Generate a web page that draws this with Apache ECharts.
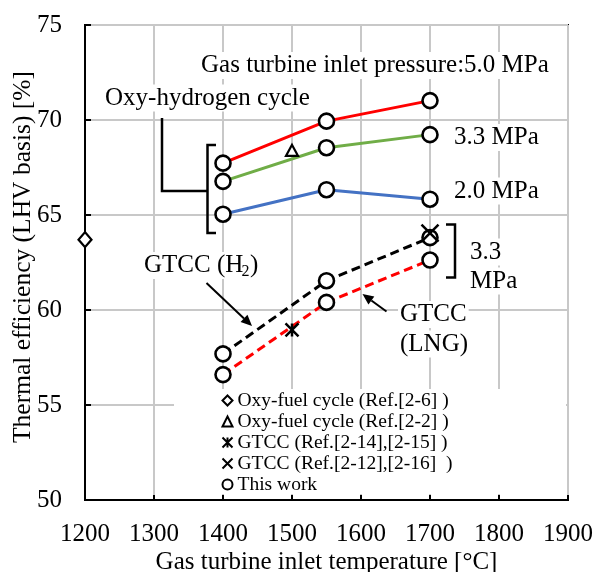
<!DOCTYPE html>
<html>
<head>
<meta charset="utf-8">
<script src="https://cdn.jsdelivr.net/npm/echarts@6/dist/echarts.min.js"></script>
<style>
html,body{margin:0;padding:0;background:#fff;}
#chart{width:593px;height:572px;}
</style>
</head>
<body>
<div id="chart"></div>
<script>
// ---- data ----
const temps = [1400, 1550, 1700];
const oxyH2_50MPa = [67.73, 69.94, 71.02];
const oxyH2_33MPa = [66.77, 68.54, 69.23];
const oxyH2_20MPa = [65.04, 66.33, 65.83];
const gtccH2_33MPa = [57.69, 61.54, 63.81];
const gtccLNG_33MPa = [56.60, 60.40, 62.63];
const oxyFuelRef26 = [[1200, 63.7]];
const oxyFuelRef22 = [[1500, 68.4]];
const gtccRef1415 = [[1500, 58.95]];
const gtccRef1216 = [[1700, 64.05]];
const xRange = [1200, 1900, 100];
const yRange = [50, 75, 5];
const legendNames = ['Oxy-fuel cycle (Ref.[2-6] )', 'Oxy-fuel cycle (Ref.[2-2] )', 'GTCC (Ref.[2-14],[2-15] )', 'GTCC (Ref.[2-12],[2-16]  )', 'This work'];

const FONT = '"Liberation Serif", "Times New Roman", serif';
const pair = (ys) => temps.map((t, i) => [t, ys[i]]);
const thisWork = [].concat(pair(oxyH2_50MPa), pair(oxyH2_33MPa), pair(oxyH2_20MPa), pair(gtccH2_33MPa), pair(gtccLNG_33MPa));

const STAR = 'path://M0,0L10,10M10,0L0,10M5,0L5,10';
const CROSS = 'path://M0,0L10,10M10,0L0,10';

function lineSeries(ys, color, dashed) {
  return {
    type: 'line', data: pair(ys), showSymbol: false, symbol: 'none', z: 2,
    lineStyle: { color: color, width: 3, type: dashed ? [9, 5] : 'solid' },
    silent: true
  };
}
function txt(s, x, y, size, bg) {
  return {
    type: 'text', x: x, y: y, z: 5,
    style: {
      text: s, font: (size || 25) + 'px ' + FONT, fill: '#000',
      textAlign: 'left', textVerticalAlign: 'middle', align: 'left', verticalAlign: 'middle',
      backgroundColor: bg === false ? null : '#fff', padding: bg === false ? 0 : [1, 2]
    }
  };
}
function poly(points) {
  return { type: 'polyline', z: 6, shape: { points: points }, style: { stroke: '#000', lineWidth: 2.5, fill: null } };
}
function arrow(x1, y1, x2, y2) {
  const a = Math.atan2(y2 - y1, x2 - x1), L = 11, W = 5;
  const bx = x2 - L * Math.cos(a), by = y2 - L * Math.sin(a);
  const px = -Math.sin(a) * W, py = Math.cos(a) * W;
  return [
    { type: 'line', z: 6, shape: { x1: x1, y1: y1, x2: bx, y2: by }, style: { stroke: '#000', lineWidth: 2 } },
    { type: 'polygon', z: 6, shape: { points: [[x2, y2], [bx + px, by + py], [bx - px, by - py]] }, style: { fill: '#000' } }
  ];
}

const chart = echarts.init(document.getElementById('chart'), null, { renderer: 'canvas' });
const option = {
  backgroundColor: '#fff',
  animation: false,
  textStyle: { fontFamily: FONT },
  grid: { left: 85, right: 25, top: 25, bottom: 72, show: true, borderColor: '#000', borderWidth: 2,
    containLabel: false, outerBoundsMode: 'none' },
  xAxis: {
    type: 'value', min: xRange[0], max: xRange[1], interval: xRange[2],
    name: 'Gas turbine inlet temperature [°C]', nameLocation: 'middle', nameGap: 50, nameMoveOverlap: false,
    nameTextStyle: { fontSize: 25, color: '#000', fontFamily: FONT },
    axisLine: { show: true, lineStyle: { color: '#000', width: 2 } },
    axisTick: { show: true, inside: true, length: 5, lineStyle: { color: '#000', width: 2 } },
    axisLabel: { fontSize: 25, color: '#000', margin: 22, fontFamily: FONT, showMaxLabel: true, showMinLabel: true,
      formatter: (v) => String(v) },
    splitLine: { show: true, lineStyle: { color: '#c8c8c8', width: 2 } }
  },
  yAxis: {
    type: 'value', min: yRange[0], max: yRange[1], interval: yRange[2],
    name: 'Thermal efficiency (LHV basis) [%]', nameLocation: 'middle', nameGap: 49, nameMoveOverlap: false,
    nameTextStyle: { fontSize: 25.5, color: '#000', fontFamily: FONT, padding: [0, 0, 0, 11] },
    axisLine: { show: true, lineStyle: { color: '#000', width: 2 } },
    axisTick: { show: true, inside: true, length: 6, lineStyle: { color: '#000', width: 2 } },
    axisLabel: { fontSize: 25, color: '#000', margin: 23, fontFamily: FONT, formatter: (v) => String(v) },
    splitLine: { show: true, lineStyle: { color: '#c8c8c8', width: 2 } }
  },
  legend: {
    orient: 'vertical', left: 221.5, top: 390, padding: 0, itemGap: 0,
    itemWidth: 10, itemHeight: 10, z: 8,
    textStyle: { fontSize: 19.5, color: '#000', fontFamily: FONT, lineHeight: 21 },
    selectedMode: false,
    data: [
      { name: legendNames[0], icon: 'diamond' },
      { name: legendNames[1], icon: 'triangle' },
      { name: legendNames[2], icon: STAR },
      { name: legendNames[3], icon: CROSS },
      { name: legendNames[4], icon: 'circle' }
    ]
  },
  series: [
    lineSeries(oxyH2_50MPa, '#ff0000', false),
    lineSeries(oxyH2_33MPa, '#70ad47', false),
    lineSeries(oxyH2_20MPa, '#4472c4', false),
    lineSeries(gtccH2_33MPa, '#000000', true),
    lineSeries(gtccLNG_33MPa, '#ff0000', true),
    { name: legendNames[4], type: 'scatter', data: thisWork, symbol: 'circle', symbolSize: 15, z: 3, clip: false,
      itemStyle: { color: '#fff', borderColor: '#000', borderWidth: 2.6, opacity: 1 } },
    { name: legendNames[0], type: 'scatter', data: oxyFuelRef26, symbol: 'diamond', symbolSize: [13, 15], z: 4, clip: false,
      itemStyle: { color: '#fff', borderColor: '#000', borderWidth: 2.2, opacity: 1 } },
    { name: legendNames[1], type: 'scatter', data: oxyFuelRef22, symbol: 'triangle', symbolSize: [12, 11], z: 4, clip: false,
      itemStyle: { color: '#fff', borderColor: '#000', borderWidth: 2.2, opacity: 1 } },
    { name: legendNames[2], type: 'scatter', data: gtccRef1415, symbol: STAR, symbolSize: [13, 13], z: 4, clip: false,
      itemStyle: { color: 'rgba(0,0,0,0)', borderColor: '#000', borderWidth: 2.5, opacity: 1 } },
    { name: legendNames[3], type: 'scatter', data: gtccRef1216, symbol: CROSS, symbolSize: [17, 17], z: 4, clip: false,
      itemStyle: { color: 'rgba(0,0,0,0)', borderColor: '#000', borderWidth: 2.5, opacity: 1 } }
  ],
  graphic: [
    { type: 'rect', z: 1, shape: { x: 174, y: 389, width: 392, height: 105 }, style: { fill: '#fff' } },
    txt('Gas turbine inlet pressure:5.0 MPa', 199, 65.5),
    txt('Oxy-hydrogen cycle', 103, 98),
    txt('3.3 MPa', 452, 137.5),
    txt('2.0 MPa', 452, 191),
    txt('3.3', 468, 252),
    txt('MPa', 468, 281),
    txt('GTCC (H', 142, 265.5),
    txt('2', 241.5, 272, 16, false),
    txt(')', 250, 265.5, 25, false),
    txt('GTCC', 398, 314.5),
    txt('(LNG)', 398, 344),
    poly([[162, 118], [162, 191], [207.5, 191]]),
    poly([[216, 145], [207.5, 145], [207.5, 233], [216, 233]]),
    poly([[446, 224.5], [455, 224.5], [455, 277.5], [446, 277.5]])
  ].concat(arrow(206.5, 283, 252, 326), arrow(386.5, 311.5, 362.5, 294))
};
chart.setOption(option);
</script>
</body>
</html>
